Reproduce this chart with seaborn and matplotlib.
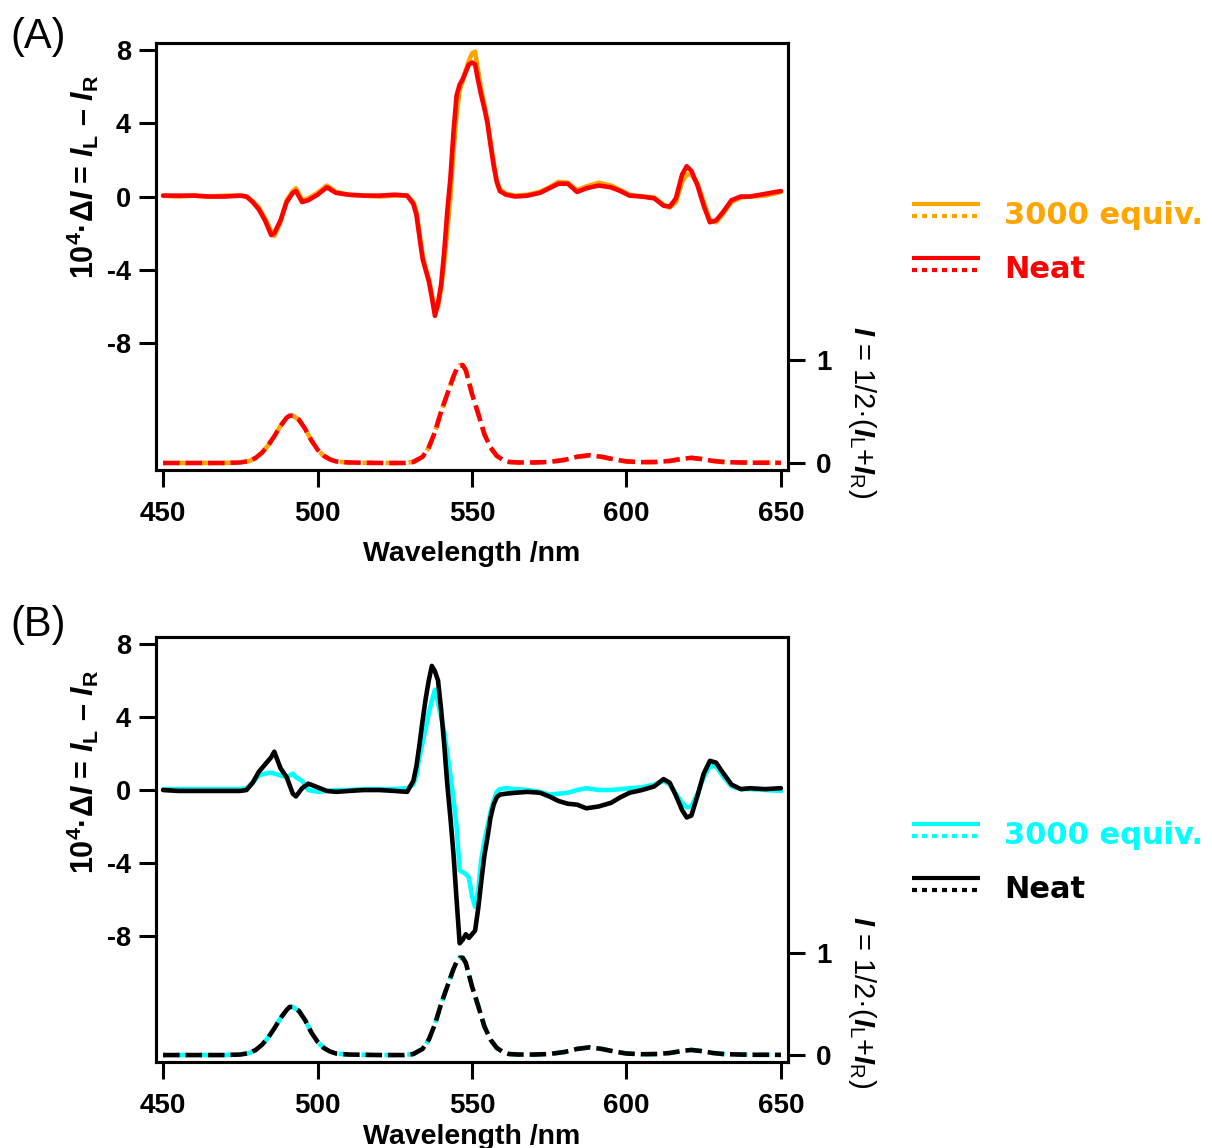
import matplotlib
matplotlib.use("Agg")
import matplotlib.pyplot as plt
import seaborn as sns
from matplotlib.lines import Line2D
from matplotlib.legend_handler import HandlerBase

# ---------------- data ----------------
wl = [450, 455, 460, 465, 470, 475, 477, 479, 481, 483, 485, 486, 488, 490, 492, 493,
      495, 497, 500, 503, 506, 510, 515, 520, 525, 529, 531, 532, 533, 534, 535, 536,
      537, 538, 539, 540, 541, 542, 543, 544, 545, 546, 547, 548, 549, 550, 551, 552,
      553, 554, 555, 556, 557, 558, 559, 561, 564, 568, 572, 575, 578, 581, 584, 587,
      591, 595, 598, 601, 605, 609, 612, 614, 616, 618, 619.5, 621, 623, 625, 627, 629,
      631, 634, 637, 640, 645, 650]

dI_A_neat = [0.05, 0.05, 0.05, 0.0, 0.0, 0.05, 0.0, -0.3, -0.7, -1.3, -2.1, -2.0, -1.3, -0.3, 0.2, 0.3,
             -0.3, -0.2, 0.1, 0.5, 0.2, 0.1, 0.05, 0.05, 0.1, 0.05, -0.4, -1.0, -2.2, -3.4, -4.0, -4.6,
             -5.5, -6.5, -5.8, -4.8, -3.0, -0.8, 1.0, 3.5, 5.5, 6.1, 6.4, 6.8, 7.2, 7.3, 7.2, 6.3,
             5.5, 4.8, 4.0, 2.8, 1.7, 0.8, 0.3, 0.1, 0.0, 0.05, 0.2, 0.45, 0.7, 0.7, 0.25, 0.45,
             0.6, 0.5, 0.3, 0.05, 0.0, -0.1, -0.5, -0.55, -0.1, 1.2, 1.65, 1.4, 0.6, -0.5, -1.4, -1.3,
             -0.9, -0.2, 0.0, 0.0, 0.15, 0.3]

dI_A_equiv = [0.05, 0.0, 0.05, 0.0, 0.05, 0.05, 0.0, -0.25, -0.6, -1.2, -1.9, -2.15, -1.4, -0.2, 0.3, 0.45,
              -0.2, -0.1, 0.2, 0.6, 0.25, 0.1, 0.05, 0.0, 0.05, 0.05, -0.3, -0.8, -2.0, -3.2, -3.9, -4.5,
              -5.3, -6.3, -6.0, -5.0, -3.6, -1.8, 0.0, 2.5, 4.5, 5.8, 6.3, 6.9, 7.4, 7.8, 7.9, 6.8,
              5.8, 5.0, 4.1, 3.0, 1.9, 0.9, 0.4, 0.15, 0.05, 0.1, 0.25, 0.5, 0.8, 0.75, 0.35, 0.55,
              0.75, 0.6, 0.35, 0.1, 0.0, -0.05, -0.45, -0.6, -0.3, 0.8, 1.2, 1.2, 0.7, -0.3, -1.3, -1.4,
              -1.0, -0.3, -0.05, 0.0, 0.05, 0.25]

dI_B_neat = [0.0, -0.05, -0.05, -0.05, -0.05, -0.05, 0.0, 0.4, 1.0, 1.4, 1.8, 2.1, 1.2, 0.7, -0.2, -0.35,
             0.1, 0.35, 0.15, -0.05, -0.1, -0.05, 0.0, 0.0, -0.05, -0.1, 0.5, 1.3, 2.5, 3.8, 5.0, 6.0,
             6.8, 6.5, 6.0, 4.4, 2.5, 0.3, -1.5, -3.5, -6.0, -8.4, -8.2, -7.9, -8.1, -7.9, -7.7, -6.5,
             -5.0, -3.6, -2.6, -1.5, -0.8, -0.4, -0.25, -0.2, -0.15, -0.1, -0.15, -0.35, -0.6, -0.75, -0.8, -1.0,
             -0.9, -0.7, -0.4, -0.15, 0.0, 0.2, 0.6, 0.4, -0.3, -1.1, -1.5, -1.4, -0.3, 0.9, 1.6, 1.5,
             1.0, 0.3, 0.05, 0.1, 0.05, 0.1]

dI_B_equiv = [0.05, 0.05, 0.05, 0.05, 0.05, 0.05, 0.1, 0.4, 0.8, 0.9, 0.95, 0.9, 0.8, 0.7, 0.9, 0.7,
              0.5, 0.0, -0.1, -0.05, 0.0, 0.0, 0.05, 0.05, 0.05, 0.1, 0.3, 0.8, 1.8, 2.6, 3.4, 4.2,
              4.9, 5.5, 4.8, 4.0, 3.2, 2.0, 0.8, -0.5, -2.0, -4.4, -4.5, -4.6, -4.8, -5.8, -6.4, -5.5,
              -3.8, -2.8, -2.0, -1.2, -0.6, -0.1, 0.05, 0.1, 0.05, 0.0, -0.1, -0.25, -0.2, -0.15, 0.0, 0.1,
              0.0, 0.0, 0.05, 0.1, 0.15, 0.3, 0.5, 0.3, -0.2, -0.7, -0.95, -0.9, -0.2, 0.7, 1.3, 1.3,
              0.8, 0.2, 0.05, 0.05, 0.0, -0.05]

wl_I = [450, 460, 470, 475, 478, 480, 482, 484, 486, 488, 490, 491, 492, 494, 496, 498,
        500, 502, 504, 506, 510, 520, 528, 531, 534, 536, 538, 540, 542, 544, 545, 546,
        547, 548, 550, 552, 554, 556, 558, 560, 562, 565, 570, 575, 580, 584, 588, 592,
        596, 600, 605, 610, 614, 618, 621, 624, 628, 632, 640, 650]

I_A_neat = [0.0, 0.0, 0.0, 0.005, 0.02, 0.05, 0.1, 0.17, 0.26, 0.36, 0.44, 0.46, 0.46, 0.42, 0.33, 0.22,
            0.13, 0.07, 0.035, 0.015, 0.005, 0.0, 0.0, 0.01, 0.06, 0.15, 0.3, 0.5, 0.67, 0.84, 0.91, 0.95,
            0.95, 0.9, 0.67, 0.48, 0.28, 0.15, 0.07, 0.03, 0.01, 0.005, 0.005, 0.01, 0.03, 0.06, 0.075, 0.06,
            0.035, 0.015, 0.008, 0.01, 0.02, 0.04, 0.05, 0.04, 0.02, 0.008, 0.003, 0.002]
I_A_equiv = [0.0, 0.0, 0.0, 0.005, 0.02, 0.05, 0.1, 0.17, 0.26, 0.36, 0.44, 0.46, 0.46, 0.42, 0.33, 0.22,
             0.13, 0.07, 0.035, 0.015, 0.005, 0.0, 0.0, 0.01, 0.06, 0.15, 0.3, 0.5, 0.67, 0.84, 0.91, 0.95,
             0.95, 0.9, 0.67, 0.48, 0.28, 0.15, 0.07, 0.03, 0.01, 0.005, 0.005, 0.01, 0.03, 0.06, 0.075, 0.06,
             0.035, 0.015, 0.008, 0.01, 0.02, 0.04, 0.05, 0.04, 0.02, 0.008, 0.003, 0.002]
I_B_neat = [0.0, 0.0, 0.0, 0.005, 0.02, 0.05, 0.1, 0.17, 0.26, 0.36, 0.44, 0.47, 0.47, 0.43, 0.34, 0.22,
            0.13, 0.07, 0.035, 0.015, 0.005, 0.0, 0.0, 0.01, 0.06, 0.15, 0.3, 0.5, 0.67, 0.84, 0.91, 0.95,
            0.95, 0.9, 0.67, 0.48, 0.28, 0.15, 0.07, 0.03, 0.01, 0.005, 0.005, 0.01, 0.03, 0.06, 0.075, 0.06,
            0.035, 0.015, 0.008, 0.01, 0.02, 0.04, 0.05, 0.04, 0.02, 0.008, 0.003, 0.002]
I_B_equiv = [0.0, 0.0, 0.0, 0.005, 0.02, 0.05, 0.1, 0.17, 0.26, 0.36, 0.44, 0.47, 0.47, 0.43, 0.34, 0.22,
             0.13, 0.07, 0.035, 0.015, 0.005, 0.0, 0.0, 0.01, 0.06, 0.15, 0.3, 0.5, 0.67, 0.84, 0.91, 0.95,
             0.95, 0.9, 0.67, 0.48, 0.28, 0.15, 0.07, 0.03, 0.01, 0.005, 0.005, 0.01, 0.03, 0.06, 0.075, 0.06,
             0.035, 0.015, 0.008, 0.01, 0.02, 0.04, 0.05, 0.04, 0.02, 0.008, 0.003, 0.002]

series_labels = ["3000 equiv.", "Neat"]
colors_A = ["#FFA500", "#FF0000"]
colors_B = ["#00FFFF", "#000000"]
x_ticks = [450, 500, 550, 600, 650]
left_ticks = [-8, -4, 0, 4, 8]
right_ticks = [0, 1]

# ---------------- style ----------------
sns.set_theme(style="ticks")
plt.rcParams["font.family"] = ["Liberation Sans", "DejaVu Sans"]
plt.rcParams["font.weight"] = "bold"
plt.rcParams["axes.labelweight"] = "bold"
plt.rcParams["text.color"] = "black"
plt.rcParams["axes.labelcolor"] = "black"
plt.rcParams["axes.unicode_minus"] = False
plt.rcParams["mathtext.fontset"] = "custom"
plt.rcParams["mathtext.rm"] = "Liberation Sans:bold"
plt.rcParams["mathtext.it"] = "Liberation Sans:italic:bold"
plt.rcParams["mathtext.bf"] = "Liberation Sans:bold"


class PairHandler(HandlerBase):
    def create_artists(self, legend, orig_handle, xdescent, ydescent, width,
                       height, fontsize, trans):
        col = orig_handle.get_color()
        x0, x1 = -xdescent, width - xdescent
        l1 = Line2D([x0, x1], [height * 0.93 - ydescent] * 2, color=col, lw=3,
                    solid_capstyle="butt")
        l2 = Line2D([x0, x1], [height * 0.36 - ydescent] * 2, color=col, lw=3,
                    linestyle=(0, (1.2, 1.2)), dash_capstyle="butt")
        l1.set_transform(trans)
        l2.set_transform(trans)
        return [l1, l2]


fig = plt.figure(figsize=(12.12, 11.48), dpi=100)
axA = fig.add_axes([0.1287, 0.5906, 0.5215, 0.372])
axB = fig.add_axes([0.1287, 0.0749, 0.5215, 0.370])

panels = [
    (axA, colors_A, dI_A_equiv, dI_A_neat, I_A_equiv, I_A_neat, 0.686, 0.136, 0.5327, -0.166),
    (axB, colors_B, dI_B_equiv, dI_B_neat, I_B_equiv, I_B_neat, 0.682, 0.141, 0.470, -0.146),
]

for ax, cols, d_eq, d_nt, i_eq, i_nt, ly, ry, legy, xly in panels:
    ax2 = ax.twinx()
    sns.lineplot(x=wl, y=d_eq, ax=ax, color=cols[0], linewidth=3.3, sort=False,
                 legend=False, solid_joinstyle="round")
    sns.lineplot(x=wl, y=d_nt, ax=ax, color=cols[1], linewidth=3.3, sort=False,
                 legend=False, solid_joinstyle="round")
    sns.lineplot(x=wl_I, y=i_eq, ax=ax2, color=cols[0], linewidth=3.3, sort=False,
                 legend=False, linestyle=(2, (2.5, 2.5)))
    sns.lineplot(x=wl_I, y=i_nt, ax=ax2, color=cols[1], linewidth=3.3, sort=False,
                 legend=False, linestyle=(0, (3.6, 1.3)))

    ax.set_xlim(447.7, 652.3)
    ax.set_ylim(-14.9, 8.37)
    ax2.set_ylim(-0.068, 4.08)
    ax.set_xticks(x_ticks)
    ax.set_yticks(left_ticks)
    ax2.set_yticks(right_ticks)
    ax.set_xticklabels([str(t) for t in x_ticks])
    ax.set_yticklabels([str(t) for t in left_ticks])
    ax2.set_yticklabels([str(t) for t in right_ticks])

    for a in (ax, ax2):
        for s in a.spines.values():
            s.set_visible(True)
            s.set_linewidth(2.2)
            s.set_color("black")
    ax.tick_params(axis="y", direction="out", length=12, width=2.2, labelsize=19.5,
                   pad=6, left=True, right=False, colors="black")
    ax.tick_params(axis="x", direction="out", length=12, width=2.2, labelsize=20,
                   pad=10, bottom=True, top=False, colors="black")
    ax2.tick_params(axis="y", direction="out", length=12, width=2.2, labelsize=20,
                    pad=8, right=True, left=False, colors="black")

    ax.set_xlabel("Wavelength /nm", fontsize=20.5, fontweight="bold", color="black")
    ax.xaxis.set_label_coords(0.5, xly)
    ax.set_ylabel(r"$\mathregular{10^4}$·Δ$I$ = $I_\mathregular{L}$ – $I_\mathregular{R}$",
                  fontsize=22, fontweight="bold", color="black")
    ax.yaxis.set_label_coords(-0.087, ly)
    ax2.set_ylabel(r"$I$ = 1/2·($I_\mathregular{L}$+$I_\mathregular{R}$)",
                   fontsize=21, fontweight="normal", rotation=270, va="center",
                   color="black")
    ax2.yaxis.set_label_coords(1.117, ry)

    handles = [Line2D([], [], color=c) for c in cols]
    leg = ax.legend(handles=handles, labels=series_labels,
                    handler_map={Line2D: PairHandler()},
                    loc="center left", bbox_to_anchor=(1.196, legy),
                    bbox_transform=ax.transAxes, frameon=False,
                    prop={"family": "DejaVu Sans", "size": 22, "weight": "bold"},
                    handlelength=2.22, handletextpad=0.8, labelspacing=0.81,
                    borderpad=0, borderaxespad=0)
    for t, c in zip(leg.get_texts(), cols):
        t.set_color(c)

fig.text(10 / 1212, 1 - 37 / 1148, "(A)", fontsize=30, fontweight="normal",
         va="center", ha="left")
fig.text(10 / 1212, 1 - 625 / 1148, "(B)", fontsize=30, fontweight="normal",
         va="center", ha="left")

fig.savefig("out.png", dpi=100)
